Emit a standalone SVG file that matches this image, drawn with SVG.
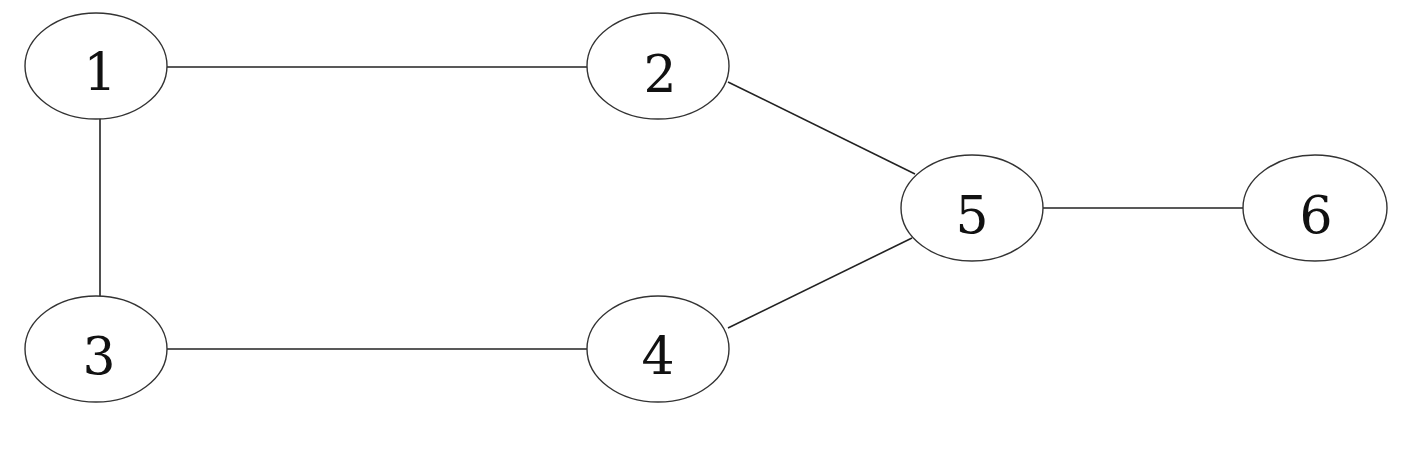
<svg xmlns="http://www.w3.org/2000/svg" width="1415" height="462" viewBox="0 0 1415 462">
<style>
.node ellipse{fill:#fff;stroke:#333;stroke-width:1.4}
.node text{font-family:"DejaVu Serif","Liberation Serif",serif;font-size:52px;fill:#111;text-anchor:middle}
#edges line{stroke:#222;stroke-width:1.6}
</style>
<rect width="1415" height="462" fill="#fff"/>
<g id="edges">
<line x1="167" y1="67" x2="597" y2="67"/>
<line x1="100" y1="118" x2="100" y2="297"/>
<line x1="167" y1="349" x2="597" y2="349"/>
<line x1="728" y1="82" x2="915" y2="174"/>
<line x1="728" y1="328" x2="912" y2="238"/>
<line x1="1043" y1="208" x2="1250" y2="208"/>
</g>
<g id="n1" class="node"><ellipse cx="96" cy="66" rx="71" ry="53"/><text x="100" y="90">1</text></g>
<g id="n2" class="node"><ellipse cx="658" cy="66" rx="71" ry="53"/><text x="660" y="92">2</text></g>
<g id="n3" class="node"><ellipse cx="96" cy="349" rx="71" ry="53"/><text x="99" y="374">3</text></g>
<g id="n4" class="node"><ellipse cx="658" cy="349" rx="71" ry="53"/><text x="658" y="374">4</text></g>
<g id="n5" class="node"><ellipse cx="972" cy="208" rx="71" ry="53"/><text x="972" y="233">5</text></g>
<g id="n6" class="node"><ellipse cx="1315" cy="208" rx="72" ry="53"/><text x="1316" y="233">6</text></g>
</svg>
